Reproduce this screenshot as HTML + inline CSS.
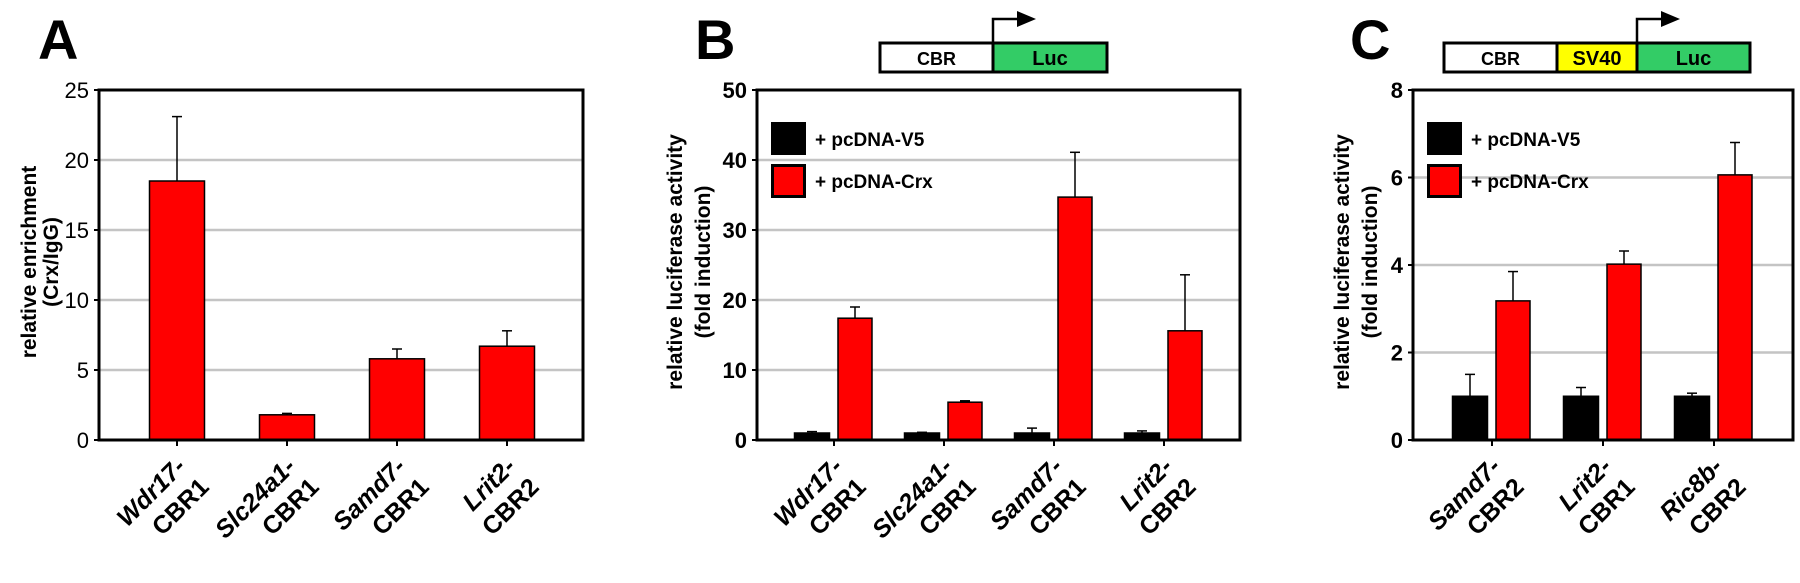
<!DOCTYPE html>
<html><head><meta charset="utf-8"><style>
html,body{margin:0;padding:0;background:#fff;}
svg{display:block;font-family:"Liberation Sans",Arial,sans-serif;}
</style></head><body>
<svg id="fig" width="1800" height="583" viewBox="0 0 1800 583"></svg>
<script>
// Panel A data
const aCategories = [["Wdr17-","CBR1"],["Slc24a1-","CBR1"],["Samd7-","CBR1"],["Lrit2-","CBR2"]];
const aValues = [18.5, 1.8, 5.8, 6.7];
const aErrTop = [23.1, 1.9, 6.5, 7.8];
const aTicks = [0,5,10,15,20,25];
// Panel B data
const bCategories = [["Wdr17-","CBR1"],["Slc24a1-","CBR1"],["Samd7-","CBR1"],["Lrit2-","CBR2"]];
const bV5 = [1, 1, 1, 1];
const bV5Err = [1.2, 1.1, 1.7, 1.3];
const bCrx = [17.4, 5.4, 34.7, 15.6];
const bCrxErr = [19.0, 5.6, 41.1, 23.6];
const bTicks = [0,10,20,30,40,50];
// Panel C data
const cCategories = [["Samd7-","CBR2"],["Lrit2-","CBR1"],["Ric8b-","CBR2"]];
const cV5 = [1, 1, 1];
const cV5Err = [1.5, 1.2, 1.07];
const cCrx = [3.18, 4.02, 6.06];
const cCrxErr = [3.85, 4.32, 6.8];
const cTicks = [0,2,4,6,8];

const NS = "http://www.w3.org/2000/svg";
const svg = document.getElementById('fig');
function mk(tag, attrs, parent, text){
  const e = document.createElementNS(NS, tag);
  for (const k in attrs) e.setAttribute(k, attrs[k]);
  if (text !== undefined) e.textContent = text;
  (parent||svg).appendChild(e);
  return e;
}
const Y0 = 440, Y1 = 90;

function panel(o){
  const g = mk('g', {});
  
  
  const maxV = o.ticks[o.ticks.length-1];
  const yS = v => Y0 - (v / maxV) * (Y0 - Y1);
  const xS = i => o.x0 + o.firstOff + i * o.step;
  o.ticks.forEach(t => {
    if (t === 0 || t === maxV) return;
    const l = mk('line', {x1:o.x0, x2:o.x1, y1:yS(t), y2:yS(t), stroke:'#c4c4c4', 'stroke-width':2.5}, g);
    
    
  });
  o.ticks.forEach(t => {
    const tl = mk('text', {x:o.x0-10, y:yS(t)+8, 'text-anchor':'end', 'font-size':22, 'font-weight':o.boldTicks?'bold':'normal'}, g, String(t));
    
    
    mk('line', {x1:o.x0-5, x2:o.x0, y1:yS(t), y2:yS(t), stroke:'#000', 'stroke-width':2}, g);
  });
  function bar(cx, w, v, e, fill, nm){
    const top = yS(v), et = yS(e);
    const el = mk('line', {x1:cx, x2:cx, y1:et, y2:top, stroke:'#000', 'stroke-width':1.5}, g);
    
    
    mk('line', {x1:cx-5, x2:cx+5, y1:et, y2:et, stroke:'#000', 'stroke-width':1.5}, g);
    const r = mk('rect', {x:cx-w/2, y:top, width:w, height:Y0-top, fill:fill, stroke:'#000', 'stroke-width':1.5}, g);
    
    
  }
  o.categories.forEach((c, i) => {
    const cx = xS(i);
    if (o.single) {
      bar(cx, 55, o.single[i], o.singleErr[i], '#ff0000', 'bar-' + i);
    } else {
      bar(cx - 22, 35, o.v5[i], o.v5Err[i], '#000000', 'bar-v5-' + i);
      bar(cx + 21, 34, o.crx[i], o.crxErr[i], '#ff0000', 'bar-crx-' + i);
    }
    mk('line', {x1:cx, x2:cx, y1:Y0, y2:Y0+6, stroke:'#000', 'stroke-width':2}, g);
    const lg = mk('g', {transform:'translate(' + (cx+10) + ',468) rotate(-45)'}, g);
    
    
    mk('text', {x:0, y:0, 'text-anchor':'end', 'font-size':25, 'font-weight':'bold', 'font-style':'italic'}, lg, c[0]);
    mk('text', {x:2, y:31, 'text-anchor':'end', 'font-size':25, 'font-weight':'bold'}, lg, c[1]);
  });
  const f = mk('rect', {x:o.x0, y:Y1, width:o.x1-o.x0, height:Y0-Y1, fill:'none', stroke:'#000', 'stroke-width':3}, g);
  
  
  const tg = mk('g', {transform:'translate(' + o.titleX + ',' + 262 + ') rotate(-90)'}, g);
  
  
  mk('text', {x:0, y:0, 'text-anchor':'middle', 'font-size':21, 'font-weight':'bold'}, tg, o.title[0]);
  mk('text', {x:0, y:o.titleGap, 'text-anchor':'middle', 'font-size':21, 'font-weight':'bold'}, tg, o.title[1]);
  const pl = mk('text', {x:o.letterX, y:59, 'font-size':56, 'font-weight':'bold'}, g, o.letter);
  
  
  if (!o.single) {
    const L = mk('g', {}, g);
    
    
    const r1 = mk('rect', {x:o.x0+14, y:122, width:35, height:33, fill:'#000'}, L);
    
    
    mk('text', {x:o.x0+58, y:146, 'font-size':19, 'font-weight':'bold'}, L, '+ pcDNA-V5');
    const r2 = mk('rect', {x:o.x0+15.5, y:165.5, width:32, height:31, fill:'#ff0000', stroke:'#000', 'stroke-width':3}, L);
    
    
    mk('text', {x:o.x0+58, y:188, 'font-size':19, 'font-weight':'bold'}, L, '+ pcDNA-Crx');
  }
  return g;
}

panel({name:'panel-a', letter:'A', letterX:38, x0:99, x1:583, firstOff:78, step:110, ticks:aTicks,
  categories:aCategories, single:aValues, singleErr:aErrTop, boldTicks:false,
  title:['relative enrichment','(Crx/IgG)'], titleX:36, titleGap:22});
panel({name:'panel-b', letter:'B', letterX:695, x0:757, x1:1240, firstOff:77, step:110, ticks:bTicks,
  categories:bCategories, v5:bV5, v5Err:bV5Err, crx:bCrx, crxErr:bCrxErr, boldTicks:true,
  title:['relative luciferase activity','(fold induction)'], titleX:682, titleGap:28});
panel({name:'panel-c', letter:'C', letterX:1350, x0:1413, x1:1793, firstOff:79, step:111, ticks:cTicks,
  categories:cCategories, v5:cV5, v5Err:cV5Err, crx:cCrx, crxErr:cCrxErr, boldTicks:true,
  title:['relative luciferase activity','(fold induction)'], titleX:1349, titleGap:28});

function construct(name, segs, arrowX){
  const g = mk('g', {});
  
  
  segs.forEach(s => {
    const r = mk('rect', {x:s.x, y:43, width:s.w, height:29, fill:s.fill, stroke:'#000', 'stroke-width':3}, g);
    
    
    mk('text', {x:s.x+s.w/2, y:65, 'text-anchor':'middle', 'font-size':s.t==='CBR'?18:20, 'font-weight':'bold'}, g, s.t);
  });
  mk('polyline', {points:arrowX+',42 '+arrowX+',19 '+(arrowX+26)+',19', fill:'none', stroke:'#000', 'stroke-width':2.5}, g);
  mk('polygon', {points:(arrowX+24)+',11 '+(arrowX+43)+',19 '+(arrowX+24)+',27', fill:'#000'}, g);
}
construct('construct-b', [{x:880,w:113,fill:'#fff',t:'CBR'},{x:993,w:114,fill:'#33cc66',t:'Luc'}], 993);
construct('construct-c', [{x:1444,w:113,fill:'#fff',t:'CBR'},{x:1557,w:80,fill:'#ffff00',t:'SV40'},{x:1637,w:113,fill:'#33cc66',t:'Luc'}], 1637);
</script>
</body></html>
